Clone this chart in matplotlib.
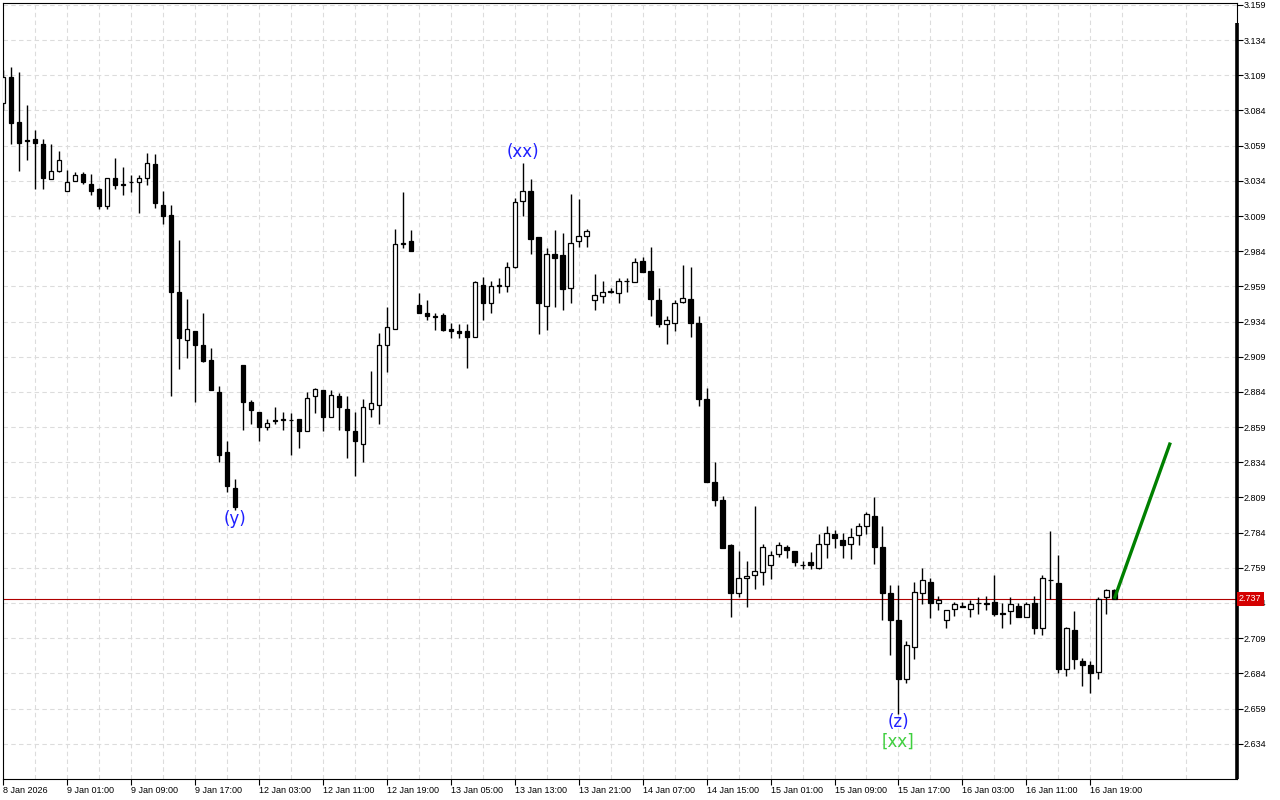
import numpy as np
import matplotlib.pyplot as plt

plt.rcParams['font.family'] = ['Liberation Sans', 'DejaVu Sans']

# hourly candles, 8 Jan 2026 17:00 .. 16 Jan 2026
opens = [3.089, 3.108, 3.076, 3.063, 3.064, 3.060, 3.035, 3.041, 3.027, 3.034,
         3.039, 3.032, 3.028, 3.016, 3.036, 3.032, 3.033, 3.033, 3.036, 3.046,
         3.017, 3.010, 2.955, 2.921, 2.927, 2.917, 2.907, 2.884, 2.841, 2.816,
         2.903, 2.877, 2.870, 2.859, 2.864, 2.865, 2.864, 2.865, 2.856, 2.881,
         2.885, 2.866, 2.881, 2.872, 2.856, 2.847, 2.872, 2.875, 2.917, 2.929,
         2.989, 2.991, 2.946, 2.940, 2.938, 2.939, 2.929, 2.927, 2.927, 2.923,
         2.960, 2.947, 2.959, 2.959, 2.973, 3.020, 3.027, 2.994, 2.945, 2.982,
         2.981, 2.958, 2.991, 2.995, 2.949, 2.952, 2.955, 2.954, 2.963, 2.962,
         2.977, 2.970, 2.949, 2.932, 2.933, 2.948, 2.950, 2.933, 2.879, 2.820,
         2.807, 2.775, 2.741, 2.752, 2.754, 2.756, 2.761, 2.769, 2.774, 2.771,
         2.761, 2.763, 2.759, 2.776, 2.783, 2.779, 2.776, 2.782, 2.789, 2.796,
         2.774, 2.741, 2.722, 2.680, 2.703, 2.741, 2.749, 2.734, 2.722, 2.730,
         2.732, 2.730, 2.734, 2.734, 2.735, 2.727, 2.728, 2.732, 2.724, 2.734,
         2.716, 2.750, 2.748, 2.687, 2.715, 2.693, 2.690, 2.685, 2.738, 2.743]
highs = [3.113, 3.115, 3.111, 3.088, 3.070, 3.064, 3.060, 3.055, 3.042, 3.040,
         3.040, 3.039, 3.029, 3.036, 3.050, 3.044, 3.038, 3.038, 3.054, 3.053,
         3.027, 3.017, 2.992, 2.950, 2.927, 2.940, 2.915, 2.888, 2.849, 2.822,
         2.903, 2.878, 2.870, 2.865, 2.873, 2.870, 2.869, 2.865, 2.884, 2.887,
         2.885, 2.885, 2.883, 2.881, 2.870, 2.879, 2.899, 2.926, 2.944, 3.000,
         3.026, 2.999, 2.954, 2.949, 2.940, 2.940, 2.933, 2.932, 2.932, 2.963,
         2.966, 2.963, 2.965, 2.976, 3.022, 3.047, 3.035, 2.994, 2.986, 2.999,
         2.997, 3.025, 3.021, 3.000, 2.968, 2.963, 2.958, 2.965, 2.965, 2.979,
         2.980, 2.987, 2.958, 2.938, 2.949, 2.974, 2.973, 2.938, 2.887, 2.834,
         2.810, 2.776, 2.771, 2.764, 2.803, 2.776, 2.771, 2.777, 2.775, 2.771,
         2.764, 2.770, 2.783, 2.789, 2.786, 2.784, 2.787, 2.791, 2.799, 2.809,
         2.789, 2.747, 2.747, 2.707, 2.749, 2.759, 2.752, 2.739, 2.729, 2.735,
         2.735, 2.736, 2.738, 2.739, 2.754, 2.734, 2.738, 2.734, 2.735, 2.739,
         2.754, 2.785, 2.768, 2.717, 2.728, 2.695, 2.693, 2.738, 2.744, 2.744]
lows = [3.084, 3.060, 3.041, 3.049, 3.028, 3.028, 3.035, 3.040, 3.027, 3.034,
        3.032, 3.024, 3.014, 3.014, 3.028, 3.024, 3.026, 3.011, 3.031, 3.015,
        3.003, 2.881, 2.900, 2.908, 2.877, 2.905, 2.885, 2.834, 2.813, 2.800,
        2.857, 2.861, 2.849, 2.857, 2.861, 2.857, 2.839, 2.844, 2.856, 2.869,
        2.856, 2.866, 2.857, 2.837, 2.824, 2.834, 2.866, 2.861, 2.898, 2.929,
        2.986, 2.984, 2.940, 2.935, 2.928, 2.927, 2.922, 2.922, 2.901, 2.923,
        2.935, 2.940, 2.954, 2.955, 2.972, 3.009, 2.982, 2.925, 2.928, 2.944,
        2.942, 2.947, 2.987, 2.987, 2.942, 2.947, 2.954, 2.947, 2.955, 2.962,
        2.969, 2.938, 2.930, 2.918, 2.927, 2.947, 2.923, 2.874, 2.820, 2.803,
        2.773, 2.724, 2.738, 2.731, 2.744, 2.747, 2.751, 2.767, 2.766, 2.760,
        2.758, 2.758, 2.758, 2.766, 2.773, 2.766, 2.765, 2.775, 2.783, 2.762,
        2.722, 2.697, 2.655, 2.677, 2.694, 2.733, 2.723, 2.729, 2.716, 2.725,
        2.731, 2.724, 2.726, 2.729, 2.725, 2.716, 2.719, 2.724, 2.724, 2.712,
        2.711, 2.737, 2.684, 2.682, 2.687, 2.675, 2.670, 2.680, 2.726, 2.737]
closes = [3.108, 3.075, 3.061, 3.062, 3.061, 3.036, 3.041, 3.049, 3.033, 3.038,
          3.033, 3.027, 3.016, 3.036, 3.031, 3.031, 3.033, 3.036, 3.047, 3.018,
          3.009, 2.955, 2.922, 2.929, 2.917, 2.906, 2.885, 2.839, 2.817, 2.802,
          2.877, 2.871, 2.859, 2.862, 2.863, 2.864, 2.864, 2.856, 2.880, 2.886,
          2.866, 2.882, 2.873, 2.857, 2.849, 2.873, 2.876, 2.917, 2.930, 2.989,
          2.990, 2.984, 2.940, 2.938, 2.937, 2.928, 2.927, 2.926, 2.923, 2.962,
          2.947, 2.959, 2.960, 2.973, 3.019, 3.027, 2.993, 2.947, 2.982, 2.979,
          2.957, 2.990, 2.995, 2.998, 2.953, 2.955, 2.956, 2.963, 2.963, 2.976,
          2.969, 2.950, 2.932, 2.935, 2.947, 2.951, 2.933, 2.879, 2.820, 2.807,
          2.773, 2.741, 2.752, 2.753, 2.757, 2.774, 2.768, 2.775, 2.772, 2.763,
          2.761, 2.761, 2.776, 2.784, 2.780, 2.775, 2.781, 2.789, 2.797, 2.774,
          2.741, 2.722, 2.680, 2.704, 2.742, 2.750, 2.734, 2.736, 2.729, 2.733,
          2.731, 2.733, 2.734, 2.733, 2.726, 2.726, 2.733, 2.724, 2.733, 2.716,
          2.752, 2.750, 2.687, 2.716, 2.694, 2.690, 2.684, 2.737, 2.743, 2.737]

time_labels = ['8 Jan 2026', '9 Jan 01:00', '9 Jan 09:00', '9 Jan 17:00',
               '12 Jan 03:00', '12 Jan 11:00', '12 Jan 19:00', '13 Jan 05:00',
               '13 Jan 13:00', '13 Jan 21:00', '14 Jan 07:00', '14 Jan 15:00',
               '15 Jan 01:00', '15 Jan 09:00', '15 Jan 17:00', '16 Jan 03:00',
               '16 Jan 11:00', '16 Jan 19:00']
price_ticks = [2.634, 2.659, 2.684, 2.709, 2.734, 2.759, 2.784, 2.809, 2.834,
               2.859, 2.884, 2.909, 2.934, 2.959, 2.984, 3.009, 3.034, 3.059,
               3.084, 3.109, 3.134, 3.159]

# wave marks (text, bar, price)
wave_labels = [('(xx)', 65, 3.0545, '#1f1fff'),
               ('(y)', 29, 2.7937, '#1f1fff'),
               ('(z)', 112, 2.6495, '#1f1fff'),
               ('[xx]', 112, 2.6353, '#3ecf3e')]
# projected move
proj_x = [139, 146]
proj_y = [2.737, 2.848]

o = np.array(opens); h = np.array(highs); l = np.array(lows); c = np.array(closes)
x = np.arange(len(o))
up = c >= o

fig = plt.figure(figsize=(12.8, 8), dpi=100, facecolor='white')
ax = fig.add_axes([3/1280, 1 - 779/800, 1234/1280, 776.3/800])

ax.vlines(x, l, h, color='black', linewidth=1.0, zorder=2)
body_lo = np.minimum(o, c)
body_h = np.abs(c - o)
ax.bar(x[up], body_h[up], bottom=body_lo[up], width=0.55,
       facecolor='white', edgecolor='black', linewidth=0.9, zorder=3)
ax.bar(x[~up], body_h[~up], bottom=body_lo[~up], width=0.55,
       facecolor='black', edgecolor='black', linewidth=0.9, zorder=3)

# current price line
last = closes[-1]
ax.axhline(last, color='#b00000', linewidth=0.8, zorder=1.5)
ax.text(1.0015, last, '%.3f' % last, transform=ax.get_yaxis_transform(),
        color='white', fontsize=6.5, va='center', ha='left', zorder=20,
        clip_on=False,
        bbox=dict(boxstyle='square,pad=0.25', facecolor='#d40000', edgecolor='none'))

ax.plot(proj_x, proj_y, color='#008000', linewidth=2.4, zorder=5,
        solid_capstyle='butt')

for txt, bx, py, col in wave_labels:
    ax.text(bx, py, txt, color=col, fontsize=12, ha='center', va='center',
            family=['DejaVu Sans'], zorder=6)

ax.set_xlim(0.09, 154.34)
ax.set_ylim(2.6089, 3.1606)

ax.set_xticks(np.arange(0, 8 * len(time_labels), 8))
ax.set_xticklabels(time_labels)
ax.set_xticks(np.arange(4, 156, 8), minor=True)
ax.tick_params(axis='x', which='major', direction='out', length=4, width=0.8,
               labelsize=6.5, pad=1)
ax.tick_params(axis='x', which='minor', length=0)
plt.setp(ax.get_xticklabels(), ha='left')

ax.yaxis.tick_right()
ax.set_yticks(price_ticks)
ax.set_yticklabels(['%.3f' % v for v in price_ticks])
ax.tick_params(axis='y', direction='out', length=4, width=0.8, labelsize=6.5, pad=1)

ax.grid(True, which='both', color='#dcdcdc', linestyle=(0, (4, 3)), linewidth=0.8)
ax.set_axisbelow(True)

for s in ['left', 'top', 'bottom', 'right']:
    ax.spines[s].set_linewidth(0.8)
    ax.spines[s].set_color('black')
ax.plot([1, 1], [0, 0.974], transform=ax.transAxes, color='black',
        linewidth=2.6, clip_on=False, zorder=10, solid_capstyle='butt')

plt.savefig('out.png', dpi=100, facecolor='white')
